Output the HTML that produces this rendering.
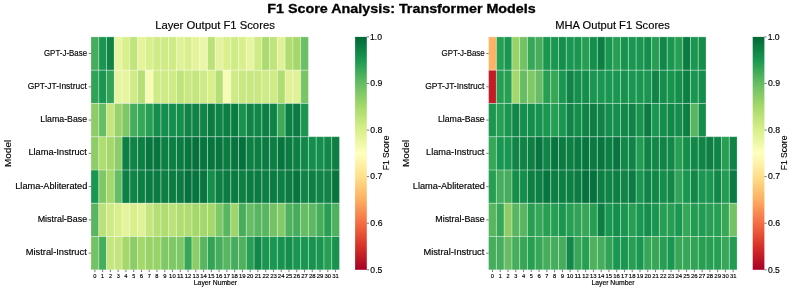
<!DOCTYPE html>
<html><head><meta charset="utf-8"><title>F1 Score Analysis: Transformer Models</title>
<style>html,body{margin:0;padding:0;background:#fff;}body{width:793px;height:290px;overflow:hidden;}
svg{display:block;will-change:transform;font-family:"Liberation Sans",sans-serif;}</style></head>
<body><svg width="793" height="290" viewBox="0 0 793 290">
<defs><linearGradient id="cb" x1="0" y1="1" x2="0" y2="0"><stop offset="0.00" stop-color="#a50026"/><stop offset="0.10" stop-color="#d73027"/><stop offset="0.20" stop-color="#f46d43"/><stop offset="0.30" stop-color="#fdae61"/><stop offset="0.40" stop-color="#fee08b"/><stop offset="0.50" stop-color="#ffffbf"/><stop offset="0.60" stop-color="#d9ef8b"/><stop offset="0.70" stop-color="#a6d96a"/><stop offset="0.80" stop-color="#66bd63"/><stop offset="0.90" stop-color="#1a9850"/><stop offset="1.00" stop-color="#006837"/></linearGradient></defs>
<rect width="793" height="290" fill="#fff"/>
<rect x="91.000" y="36.900" width="7.764" height="33.271" fill="#45ad5b"/>
<rect x="98.764" y="36.900" width="7.764" height="33.271" fill="#199750"/>
<rect x="106.528" y="36.900" width="7.764" height="33.271" fill="#0f8446"/>
<rect x="114.292" y="36.900" width="7.764" height="33.271" fill="#e8f59f"/>
<rect x="122.056" y="36.900" width="7.764" height="33.271" fill="#d9ef8b"/>
<rect x="129.820" y="36.900" width="7.764" height="33.271" fill="#bfe47a"/>
<rect x="137.584" y="36.900" width="7.764" height="33.271" fill="#e5f49b"/>
<rect x="145.348" y="36.900" width="7.764" height="33.271" fill="#d9ef8b"/>
<rect x="153.113" y="36.900" width="7.764" height="33.271" fill="#cfeb85"/>
<rect x="160.877" y="36.900" width="7.764" height="33.271" fill="#cfeb85"/>
<rect x="168.641" y="36.900" width="7.764" height="33.271" fill="#cfeb85"/>
<rect x="176.405" y="36.900" width="7.764" height="33.271" fill="#e0f295"/>
<rect x="184.169" y="36.900" width="7.764" height="33.271" fill="#d9ef8b"/>
<rect x="191.933" y="36.900" width="7.764" height="33.271" fill="#e5f49b"/>
<rect x="199.697" y="36.900" width="7.764" height="33.271" fill="#ecf7a6"/>
<rect x="207.461" y="36.900" width="7.764" height="33.271" fill="#bbe278"/>
<rect x="215.225" y="36.900" width="7.764" height="33.271" fill="#e5f49b"/>
<rect x="222.989" y="36.900" width="7.764" height="33.271" fill="#d9ef8b"/>
<rect x="230.753" y="36.900" width="7.764" height="33.271" fill="#cfeb85"/>
<rect x="238.517" y="36.900" width="7.764" height="33.271" fill="#d9ef8b"/>
<rect x="246.281" y="36.900" width="7.764" height="33.271" fill="#e8f59f"/>
<rect x="254.045" y="36.900" width="7.764" height="33.271" fill="#cfeb85"/>
<rect x="261.809" y="36.900" width="7.764" height="33.271" fill="#abdb6d"/>
<rect x="269.573" y="36.900" width="7.764" height="33.271" fill="#bfe47a"/>
<rect x="277.337" y="36.900" width="7.764" height="33.271" fill="#e0f295"/>
<rect x="285.102" y="36.900" width="7.764" height="33.271" fill="#afdd70"/>
<rect x="292.866" y="36.900" width="7.764" height="33.271" fill="#a5d86a"/>
<rect x="300.630" y="36.900" width="7.764" height="33.271" fill="#6bbf64"/>
<rect x="91.000" y="70.171" width="7.764" height="33.271" fill="#30a356"/>
<rect x="98.764" y="70.171" width="7.764" height="33.271" fill="#199750"/>
<rect x="106.528" y="70.171" width="7.764" height="33.271" fill="#30a356"/>
<rect x="114.292" y="70.171" width="7.764" height="33.271" fill="#e8f59f"/>
<rect x="122.056" y="70.171" width="7.764" height="33.271" fill="#e8f59f"/>
<rect x="129.820" y="70.171" width="7.764" height="33.271" fill="#cfeb85"/>
<rect x="137.584" y="70.171" width="7.764" height="33.271" fill="#b5df74"/>
<rect x="145.348" y="70.171" width="7.764" height="33.271" fill="#f7fcb4"/>
<rect x="153.113" y="70.171" width="7.764" height="33.271" fill="#cfeb85"/>
<rect x="160.877" y="70.171" width="7.764" height="33.271" fill="#cfeb85"/>
<rect x="168.641" y="70.171" width="7.764" height="33.271" fill="#cfeb85"/>
<rect x="176.405" y="70.171" width="7.764" height="33.271" fill="#bfe47a"/>
<rect x="184.169" y="70.171" width="7.764" height="33.271" fill="#c9e881"/>
<rect x="191.933" y="70.171" width="7.764" height="33.271" fill="#c5e67e"/>
<rect x="199.697" y="70.171" width="7.764" height="33.271" fill="#cfeb85"/>
<rect x="207.461" y="70.171" width="7.764" height="33.271" fill="#d9ef8b"/>
<rect x="215.225" y="70.171" width="7.764" height="33.271" fill="#b5df74"/>
<rect x="222.989" y="70.171" width="7.764" height="33.271" fill="#f7fcb4"/>
<rect x="230.753" y="70.171" width="7.764" height="33.271" fill="#cfeb85"/>
<rect x="238.517" y="70.171" width="7.764" height="33.271" fill="#c9e881"/>
<rect x="246.281" y="70.171" width="7.764" height="33.271" fill="#c9e881"/>
<rect x="254.045" y="70.171" width="7.764" height="33.271" fill="#c9e881"/>
<rect x="261.809" y="70.171" width="7.764" height="33.271" fill="#cfeb85"/>
<rect x="269.573" y="70.171" width="7.764" height="33.271" fill="#cfeb85"/>
<rect x="277.337" y="70.171" width="7.764" height="33.271" fill="#afdd70"/>
<rect x="285.102" y="70.171" width="7.764" height="33.271" fill="#e0f295"/>
<rect x="292.866" y="70.171" width="7.764" height="33.271" fill="#e0f295"/>
<rect x="300.630" y="70.171" width="7.764" height="33.271" fill="#78c565"/>
<rect x="91.000" y="103.443" width="7.764" height="33.271" fill="#8ccd67"/>
<rect x="98.764" y="103.443" width="7.764" height="33.271" fill="#66bd63"/>
<rect x="106.528" y="103.443" width="7.764" height="33.271" fill="#c5e67e"/>
<rect x="114.292" y="103.443" width="7.764" height="33.271" fill="#98d368"/>
<rect x="122.056" y="103.443" width="7.764" height="33.271" fill="#7fc866"/>
<rect x="129.820" y="103.443" width="7.764" height="33.271" fill="#45ad5b"/>
<rect x="137.584" y="103.443" width="7.764" height="33.271" fill="#36a657"/>
<rect x="145.348" y="103.443" width="7.764" height="33.271" fill="#279f53"/>
<rect x="153.113" y="103.443" width="7.764" height="33.271" fill="#148e4b"/>
<rect x="160.877" y="103.443" width="7.764" height="33.271" fill="#148e4b"/>
<rect x="168.641" y="103.443" width="7.764" height="33.271" fill="#148e4b"/>
<rect x="176.405" y="103.443" width="7.764" height="33.271" fill="#148e4b"/>
<rect x="184.169" y="103.443" width="7.764" height="33.271" fill="#0f8446"/>
<rect x="191.933" y="103.443" width="7.764" height="33.271" fill="#0f8446"/>
<rect x="199.697" y="103.443" width="7.764" height="33.271" fill="#0f8446"/>
<rect x="207.461" y="103.443" width="7.764" height="33.271" fill="#0a7b41"/>
<rect x="215.225" y="103.443" width="7.764" height="33.271" fill="#0f8446"/>
<rect x="222.989" y="103.443" width="7.764" height="33.271" fill="#0c7f43"/>
<rect x="230.753" y="103.443" width="7.764" height="33.271" fill="#0a7b41"/>
<rect x="238.517" y="103.443" width="7.764" height="33.271" fill="#17934e"/>
<rect x="246.281" y="103.443" width="7.764" height="33.271" fill="#0f8446"/>
<rect x="254.045" y="103.443" width="7.764" height="33.271" fill="#118848"/>
<rect x="261.809" y="103.443" width="7.764" height="33.271" fill="#0c7f43"/>
<rect x="269.573" y="103.443" width="7.764" height="33.271" fill="#0f8446"/>
<rect x="277.337" y="103.443" width="7.764" height="33.271" fill="#3faa59"/>
<rect x="285.102" y="103.443" width="7.764" height="33.271" fill="#0c7f43"/>
<rect x="292.866" y="103.443" width="7.764" height="33.271" fill="#0a7b41"/>
<rect x="300.630" y="103.443" width="7.764" height="33.271" fill="#199750"/>
<rect x="91.000" y="136.714" width="7.764" height="33.271" fill="#8ccd67"/>
<rect x="98.764" y="136.714" width="7.764" height="33.271" fill="#afdd70"/>
<rect x="106.528" y="136.714" width="7.764" height="33.271" fill="#a5d86a"/>
<rect x="114.292" y="136.714" width="7.764" height="33.271" fill="#8ccd67"/>
<rect x="122.056" y="136.714" width="7.764" height="33.271" fill="#0c7f43"/>
<rect x="129.820" y="136.714" width="7.764" height="33.271" fill="#0f8446"/>
<rect x="137.584" y="136.714" width="7.764" height="33.271" fill="#0c7f43"/>
<rect x="145.348" y="136.714" width="7.764" height="33.271" fill="#07753e"/>
<rect x="153.113" y="136.714" width="7.764" height="33.271" fill="#07753e"/>
<rect x="160.877" y="136.714" width="7.764" height="33.271" fill="#0c7f43"/>
<rect x="168.641" y="136.714" width="7.764" height="33.271" fill="#0c7f43"/>
<rect x="176.405" y="136.714" width="7.764" height="33.271" fill="#0a7b41"/>
<rect x="184.169" y="136.714" width="7.764" height="33.271" fill="#07753e"/>
<rect x="191.933" y="136.714" width="7.764" height="33.271" fill="#05713c"/>
<rect x="199.697" y="136.714" width="7.764" height="33.271" fill="#07753e"/>
<rect x="207.461" y="136.714" width="7.764" height="33.271" fill="#07753e"/>
<rect x="215.225" y="136.714" width="7.764" height="33.271" fill="#07753e"/>
<rect x="222.989" y="136.714" width="7.764" height="33.271" fill="#0a7b41"/>
<rect x="230.753" y="136.714" width="7.764" height="33.271" fill="#07753e"/>
<rect x="238.517" y="136.714" width="7.764" height="33.271" fill="#05713c"/>
<rect x="246.281" y="136.714" width="7.764" height="33.271" fill="#0c7f43"/>
<rect x="254.045" y="136.714" width="7.764" height="33.271" fill="#0c7f43"/>
<rect x="261.809" y="136.714" width="7.764" height="33.271" fill="#0a7b41"/>
<rect x="269.573" y="136.714" width="7.764" height="33.271" fill="#0c7f43"/>
<rect x="277.337" y="136.714" width="7.764" height="33.271" fill="#07753e"/>
<rect x="285.102" y="136.714" width="7.764" height="33.271" fill="#0a7b41"/>
<rect x="292.866" y="136.714" width="7.764" height="33.271" fill="#0c7f43"/>
<rect x="300.630" y="136.714" width="7.764" height="33.271" fill="#118848"/>
<rect x="308.394" y="136.714" width="7.764" height="33.271" fill="#148e4b"/>
<rect x="316.158" y="136.714" width="7.764" height="33.271" fill="#148e4b"/>
<rect x="323.922" y="136.714" width="7.764" height="33.271" fill="#118848"/>
<rect x="331.686" y="136.714" width="7.764" height="33.271" fill="#0c7f43"/>
<rect x="91.000" y="169.986" width="7.764" height="33.271" fill="#199750"/>
<rect x="98.764" y="169.986" width="7.764" height="33.271" fill="#7fc866"/>
<rect x="106.528" y="169.986" width="7.764" height="33.271" fill="#a5d86a"/>
<rect x="114.292" y="169.986" width="7.764" height="33.271" fill="#66bd63"/>
<rect x="122.056" y="169.986" width="7.764" height="33.271" fill="#0c7f43"/>
<rect x="129.820" y="169.986" width="7.764" height="33.271" fill="#0f8446"/>
<rect x="137.584" y="169.986" width="7.764" height="33.271" fill="#0c7f43"/>
<rect x="145.348" y="169.986" width="7.764" height="33.271" fill="#0a7b41"/>
<rect x="153.113" y="169.986" width="7.764" height="33.271" fill="#0a7b41"/>
<rect x="160.877" y="169.986" width="7.764" height="33.271" fill="#0c7f43"/>
<rect x="168.641" y="169.986" width="7.764" height="33.271" fill="#0a7b41"/>
<rect x="176.405" y="169.986" width="7.764" height="33.271" fill="#0a7b41"/>
<rect x="184.169" y="169.986" width="7.764" height="33.271" fill="#05713c"/>
<rect x="191.933" y="169.986" width="7.764" height="33.271" fill="#07753e"/>
<rect x="199.697" y="169.986" width="7.764" height="33.271" fill="#07753e"/>
<rect x="207.461" y="169.986" width="7.764" height="33.271" fill="#148e4b"/>
<rect x="215.225" y="169.986" width="7.764" height="33.271" fill="#0c7f43"/>
<rect x="222.989" y="169.986" width="7.764" height="33.271" fill="#0a7b41"/>
<rect x="230.753" y="169.986" width="7.764" height="33.271" fill="#0a7b41"/>
<rect x="238.517" y="169.986" width="7.764" height="33.271" fill="#0c7f43"/>
<rect x="246.281" y="169.986" width="7.764" height="33.271" fill="#0a7b41"/>
<rect x="254.045" y="169.986" width="7.764" height="33.271" fill="#0a7b41"/>
<rect x="261.809" y="169.986" width="7.764" height="33.271" fill="#0c7f43"/>
<rect x="269.573" y="169.986" width="7.764" height="33.271" fill="#0a7b41"/>
<rect x="277.337" y="169.986" width="7.764" height="33.271" fill="#0c7f43"/>
<rect x="285.102" y="169.986" width="7.764" height="33.271" fill="#0a7b41"/>
<rect x="292.866" y="169.986" width="7.764" height="33.271" fill="#07753e"/>
<rect x="300.630" y="169.986" width="7.764" height="33.271" fill="#0f8446"/>
<rect x="308.394" y="169.986" width="7.764" height="33.271" fill="#0c7f43"/>
<rect x="316.158" y="169.986" width="7.764" height="33.271" fill="#0f8446"/>
<rect x="323.922" y="169.986" width="7.764" height="33.271" fill="#0f8446"/>
<rect x="331.686" y="169.986" width="7.764" height="33.271" fill="#07753e"/>
<rect x="91.000" y="203.257" width="7.764" height="33.271" fill="#57b65f"/>
<rect x="98.764" y="203.257" width="7.764" height="33.271" fill="#bbe278"/>
<rect x="106.528" y="203.257" width="7.764" height="33.271" fill="#cfeb85"/>
<rect x="114.292" y="203.257" width="7.764" height="33.271" fill="#d9ef8b"/>
<rect x="122.056" y="203.257" width="7.764" height="33.271" fill="#e5f49b"/>
<rect x="129.820" y="203.257" width="7.764" height="33.271" fill="#d9ef8b"/>
<rect x="137.584" y="203.257" width="7.764" height="33.271" fill="#e0f295"/>
<rect x="145.348" y="203.257" width="7.764" height="33.271" fill="#c5e67e"/>
<rect x="153.113" y="203.257" width="7.764" height="33.271" fill="#b5df74"/>
<rect x="160.877" y="203.257" width="7.764" height="33.271" fill="#afdd70"/>
<rect x="168.641" y="203.257" width="7.764" height="33.271" fill="#bbe278"/>
<rect x="176.405" y="203.257" width="7.764" height="33.271" fill="#afdd70"/>
<rect x="184.169" y="203.257" width="7.764" height="33.271" fill="#afdd70"/>
<rect x="191.933" y="203.257" width="7.764" height="33.271" fill="#a5d86a"/>
<rect x="199.697" y="203.257" width="7.764" height="33.271" fill="#a5d86a"/>
<rect x="207.461" y="203.257" width="7.764" height="33.271" fill="#a5d86a"/>
<rect x="215.225" y="203.257" width="7.764" height="33.271" fill="#7fc866"/>
<rect x="222.989" y="203.257" width="7.764" height="33.271" fill="#57b65f"/>
<rect x="230.753" y="203.257" width="7.764" height="33.271" fill="#a0d669"/>
<rect x="238.517" y="203.257" width="7.764" height="33.271" fill="#45ad5b"/>
<rect x="246.281" y="203.257" width="7.764" height="33.271" fill="#66bd63"/>
<rect x="254.045" y="203.257" width="7.764" height="33.271" fill="#57b65f"/>
<rect x="261.809" y="203.257" width="7.764" height="33.271" fill="#57b65f"/>
<rect x="269.573" y="203.257" width="7.764" height="33.271" fill="#73c264"/>
<rect x="277.337" y="203.257" width="7.764" height="33.271" fill="#84ca66"/>
<rect x="285.102" y="203.257" width="7.764" height="33.271" fill="#4eb15d"/>
<rect x="292.866" y="203.257" width="7.764" height="33.271" fill="#45ad5b"/>
<rect x="300.630" y="203.257" width="7.764" height="33.271" fill="#66bd63"/>
<rect x="308.394" y="203.257" width="7.764" height="33.271" fill="#5db961"/>
<rect x="316.158" y="203.257" width="7.764" height="33.271" fill="#45ad5b"/>
<rect x="323.922" y="203.257" width="7.764" height="33.271" fill="#279f53"/>
<rect x="331.686" y="203.257" width="7.764" height="33.271" fill="#4eb15d"/>
<rect x="91.000" y="236.529" width="7.764" height="33.271" fill="#73c264"/>
<rect x="98.764" y="236.529" width="7.764" height="33.271" fill="#45ad5b"/>
<rect x="106.528" y="236.529" width="7.764" height="33.271" fill="#c5e67e"/>
<rect x="114.292" y="236.529" width="7.764" height="33.271" fill="#c5e67e"/>
<rect x="122.056" y="236.529" width="7.764" height="33.271" fill="#a5d86a"/>
<rect x="129.820" y="236.529" width="7.764" height="33.271" fill="#8ccd67"/>
<rect x="137.584" y="236.529" width="7.764" height="33.271" fill="#a5d86a"/>
<rect x="145.348" y="236.529" width="7.764" height="33.271" fill="#98d368"/>
<rect x="153.113" y="236.529" width="7.764" height="33.271" fill="#98d368"/>
<rect x="160.877" y="236.529" width="7.764" height="33.271" fill="#7fc866"/>
<rect x="168.641" y="236.529" width="7.764" height="33.271" fill="#7fc866"/>
<rect x="176.405" y="236.529" width="7.764" height="33.271" fill="#7fc866"/>
<rect x="184.169" y="236.529" width="7.764" height="33.271" fill="#36a657"/>
<rect x="191.933" y="236.529" width="7.764" height="33.271" fill="#8ccd67"/>
<rect x="199.697" y="236.529" width="7.764" height="33.271" fill="#57b65f"/>
<rect x="207.461" y="236.529" width="7.764" height="33.271" fill="#30a356"/>
<rect x="215.225" y="236.529" width="7.764" height="33.271" fill="#45ad5b"/>
<rect x="222.989" y="236.529" width="7.764" height="33.271" fill="#57b65f"/>
<rect x="230.753" y="236.529" width="7.764" height="33.271" fill="#45ad5b"/>
<rect x="238.517" y="236.529" width="7.764" height="33.271" fill="#4eb15d"/>
<rect x="246.281" y="236.529" width="7.764" height="33.271" fill="#279f53"/>
<rect x="254.045" y="236.529" width="7.764" height="33.271" fill="#118848"/>
<rect x="261.809" y="236.529" width="7.764" height="33.271" fill="#199750"/>
<rect x="269.573" y="236.529" width="7.764" height="33.271" fill="#199750"/>
<rect x="277.337" y="236.529" width="7.764" height="33.271" fill="#17934e"/>
<rect x="285.102" y="236.529" width="7.764" height="33.271" fill="#148e4b"/>
<rect x="292.866" y="236.529" width="7.764" height="33.271" fill="#199750"/>
<rect x="300.630" y="236.529" width="7.764" height="33.271" fill="#199750"/>
<rect x="308.394" y="236.529" width="7.764" height="33.271" fill="#17934e"/>
<rect x="316.158" y="236.529" width="7.764" height="33.271" fill="#199750"/>
<rect x="323.922" y="236.529" width="7.764" height="33.271" fill="#279f53"/>
<rect x="331.686" y="236.529" width="7.764" height="33.271" fill="#17934e"/>
<path d="M91.000 36.900h7.764v33.271h-7.764zM98.764 36.900h7.764v33.271h-7.764zM106.528 36.900h7.764v33.271h-7.764zM114.292 36.900h7.764v33.271h-7.764zM122.056 36.900h7.764v33.271h-7.764zM129.820 36.900h7.764v33.271h-7.764zM137.584 36.900h7.764v33.271h-7.764zM145.348 36.900h7.764v33.271h-7.764zM153.113 36.900h7.764v33.271h-7.764zM160.877 36.900h7.764v33.271h-7.764zM168.641 36.900h7.764v33.271h-7.764zM176.405 36.900h7.764v33.271h-7.764zM184.169 36.900h7.764v33.271h-7.764zM191.933 36.900h7.764v33.271h-7.764zM199.697 36.900h7.764v33.271h-7.764zM207.461 36.900h7.764v33.271h-7.764zM215.225 36.900h7.764v33.271h-7.764zM222.989 36.900h7.764v33.271h-7.764zM230.753 36.900h7.764v33.271h-7.764zM238.517 36.900h7.764v33.271h-7.764zM246.281 36.900h7.764v33.271h-7.764zM254.045 36.900h7.764v33.271h-7.764zM261.809 36.900h7.764v33.271h-7.764zM269.573 36.900h7.764v33.271h-7.764zM277.337 36.900h7.764v33.271h-7.764zM285.102 36.900h7.764v33.271h-7.764zM292.866 36.900h7.764v33.271h-7.764zM300.630 36.900h7.764v33.271h-7.764zM91.000 70.171h7.764v33.271h-7.764zM98.764 70.171h7.764v33.271h-7.764zM106.528 70.171h7.764v33.271h-7.764zM114.292 70.171h7.764v33.271h-7.764zM122.056 70.171h7.764v33.271h-7.764zM129.820 70.171h7.764v33.271h-7.764zM137.584 70.171h7.764v33.271h-7.764zM145.348 70.171h7.764v33.271h-7.764zM153.113 70.171h7.764v33.271h-7.764zM160.877 70.171h7.764v33.271h-7.764zM168.641 70.171h7.764v33.271h-7.764zM176.405 70.171h7.764v33.271h-7.764zM184.169 70.171h7.764v33.271h-7.764zM191.933 70.171h7.764v33.271h-7.764zM199.697 70.171h7.764v33.271h-7.764zM207.461 70.171h7.764v33.271h-7.764zM215.225 70.171h7.764v33.271h-7.764zM222.989 70.171h7.764v33.271h-7.764zM230.753 70.171h7.764v33.271h-7.764zM238.517 70.171h7.764v33.271h-7.764zM246.281 70.171h7.764v33.271h-7.764zM254.045 70.171h7.764v33.271h-7.764zM261.809 70.171h7.764v33.271h-7.764zM269.573 70.171h7.764v33.271h-7.764zM277.337 70.171h7.764v33.271h-7.764zM285.102 70.171h7.764v33.271h-7.764zM292.866 70.171h7.764v33.271h-7.764zM300.630 70.171h7.764v33.271h-7.764zM91.000 103.443h7.764v33.271h-7.764zM98.764 103.443h7.764v33.271h-7.764zM106.528 103.443h7.764v33.271h-7.764zM114.292 103.443h7.764v33.271h-7.764zM122.056 103.443h7.764v33.271h-7.764zM129.820 103.443h7.764v33.271h-7.764zM137.584 103.443h7.764v33.271h-7.764zM145.348 103.443h7.764v33.271h-7.764zM153.113 103.443h7.764v33.271h-7.764zM160.877 103.443h7.764v33.271h-7.764zM168.641 103.443h7.764v33.271h-7.764zM176.405 103.443h7.764v33.271h-7.764zM184.169 103.443h7.764v33.271h-7.764zM191.933 103.443h7.764v33.271h-7.764zM199.697 103.443h7.764v33.271h-7.764zM207.461 103.443h7.764v33.271h-7.764zM215.225 103.443h7.764v33.271h-7.764zM222.989 103.443h7.764v33.271h-7.764zM230.753 103.443h7.764v33.271h-7.764zM238.517 103.443h7.764v33.271h-7.764zM246.281 103.443h7.764v33.271h-7.764zM254.045 103.443h7.764v33.271h-7.764zM261.809 103.443h7.764v33.271h-7.764zM269.573 103.443h7.764v33.271h-7.764zM277.337 103.443h7.764v33.271h-7.764zM285.102 103.443h7.764v33.271h-7.764zM292.866 103.443h7.764v33.271h-7.764zM300.630 103.443h7.764v33.271h-7.764zM91.000 136.714h7.764v33.271h-7.764zM98.764 136.714h7.764v33.271h-7.764zM106.528 136.714h7.764v33.271h-7.764zM114.292 136.714h7.764v33.271h-7.764zM122.056 136.714h7.764v33.271h-7.764zM129.820 136.714h7.764v33.271h-7.764zM137.584 136.714h7.764v33.271h-7.764zM145.348 136.714h7.764v33.271h-7.764zM153.113 136.714h7.764v33.271h-7.764zM160.877 136.714h7.764v33.271h-7.764zM168.641 136.714h7.764v33.271h-7.764zM176.405 136.714h7.764v33.271h-7.764zM184.169 136.714h7.764v33.271h-7.764zM191.933 136.714h7.764v33.271h-7.764zM199.697 136.714h7.764v33.271h-7.764zM207.461 136.714h7.764v33.271h-7.764zM215.225 136.714h7.764v33.271h-7.764zM222.989 136.714h7.764v33.271h-7.764zM230.753 136.714h7.764v33.271h-7.764zM238.517 136.714h7.764v33.271h-7.764zM246.281 136.714h7.764v33.271h-7.764zM254.045 136.714h7.764v33.271h-7.764zM261.809 136.714h7.764v33.271h-7.764zM269.573 136.714h7.764v33.271h-7.764zM277.337 136.714h7.764v33.271h-7.764zM285.102 136.714h7.764v33.271h-7.764zM292.866 136.714h7.764v33.271h-7.764zM300.630 136.714h7.764v33.271h-7.764zM308.394 136.714h7.764v33.271h-7.764zM316.158 136.714h7.764v33.271h-7.764zM323.922 136.714h7.764v33.271h-7.764zM331.686 136.714h7.764v33.271h-7.764zM91.000 169.986h7.764v33.271h-7.764zM98.764 169.986h7.764v33.271h-7.764zM106.528 169.986h7.764v33.271h-7.764zM114.292 169.986h7.764v33.271h-7.764zM122.056 169.986h7.764v33.271h-7.764zM129.820 169.986h7.764v33.271h-7.764zM137.584 169.986h7.764v33.271h-7.764zM145.348 169.986h7.764v33.271h-7.764zM153.113 169.986h7.764v33.271h-7.764zM160.877 169.986h7.764v33.271h-7.764zM168.641 169.986h7.764v33.271h-7.764zM176.405 169.986h7.764v33.271h-7.764zM184.169 169.986h7.764v33.271h-7.764zM191.933 169.986h7.764v33.271h-7.764zM199.697 169.986h7.764v33.271h-7.764zM207.461 169.986h7.764v33.271h-7.764zM215.225 169.986h7.764v33.271h-7.764zM222.989 169.986h7.764v33.271h-7.764zM230.753 169.986h7.764v33.271h-7.764zM238.517 169.986h7.764v33.271h-7.764zM246.281 169.986h7.764v33.271h-7.764zM254.045 169.986h7.764v33.271h-7.764zM261.809 169.986h7.764v33.271h-7.764zM269.573 169.986h7.764v33.271h-7.764zM277.337 169.986h7.764v33.271h-7.764zM285.102 169.986h7.764v33.271h-7.764zM292.866 169.986h7.764v33.271h-7.764zM300.630 169.986h7.764v33.271h-7.764zM308.394 169.986h7.764v33.271h-7.764zM316.158 169.986h7.764v33.271h-7.764zM323.922 169.986h7.764v33.271h-7.764zM331.686 169.986h7.764v33.271h-7.764zM91.000 203.257h7.764v33.271h-7.764zM98.764 203.257h7.764v33.271h-7.764zM106.528 203.257h7.764v33.271h-7.764zM114.292 203.257h7.764v33.271h-7.764zM122.056 203.257h7.764v33.271h-7.764zM129.820 203.257h7.764v33.271h-7.764zM137.584 203.257h7.764v33.271h-7.764zM145.348 203.257h7.764v33.271h-7.764zM153.113 203.257h7.764v33.271h-7.764zM160.877 203.257h7.764v33.271h-7.764zM168.641 203.257h7.764v33.271h-7.764zM176.405 203.257h7.764v33.271h-7.764zM184.169 203.257h7.764v33.271h-7.764zM191.933 203.257h7.764v33.271h-7.764zM199.697 203.257h7.764v33.271h-7.764zM207.461 203.257h7.764v33.271h-7.764zM215.225 203.257h7.764v33.271h-7.764zM222.989 203.257h7.764v33.271h-7.764zM230.753 203.257h7.764v33.271h-7.764zM238.517 203.257h7.764v33.271h-7.764zM246.281 203.257h7.764v33.271h-7.764zM254.045 203.257h7.764v33.271h-7.764zM261.809 203.257h7.764v33.271h-7.764zM269.573 203.257h7.764v33.271h-7.764zM277.337 203.257h7.764v33.271h-7.764zM285.102 203.257h7.764v33.271h-7.764zM292.866 203.257h7.764v33.271h-7.764zM300.630 203.257h7.764v33.271h-7.764zM308.394 203.257h7.764v33.271h-7.764zM316.158 203.257h7.764v33.271h-7.764zM323.922 203.257h7.764v33.271h-7.764zM331.686 203.257h7.764v33.271h-7.764zM91.000 236.529h7.764v33.271h-7.764zM98.764 236.529h7.764v33.271h-7.764zM106.528 236.529h7.764v33.271h-7.764zM114.292 236.529h7.764v33.271h-7.764zM122.056 236.529h7.764v33.271h-7.764zM129.820 236.529h7.764v33.271h-7.764zM137.584 236.529h7.764v33.271h-7.764zM145.348 236.529h7.764v33.271h-7.764zM153.113 236.529h7.764v33.271h-7.764zM160.877 236.529h7.764v33.271h-7.764zM168.641 236.529h7.764v33.271h-7.764zM176.405 236.529h7.764v33.271h-7.764zM184.169 236.529h7.764v33.271h-7.764zM191.933 236.529h7.764v33.271h-7.764zM199.697 236.529h7.764v33.271h-7.764zM207.461 236.529h7.764v33.271h-7.764zM215.225 236.529h7.764v33.271h-7.764zM222.989 236.529h7.764v33.271h-7.764zM230.753 236.529h7.764v33.271h-7.764zM238.517 236.529h7.764v33.271h-7.764zM246.281 236.529h7.764v33.271h-7.764zM254.045 236.529h7.764v33.271h-7.764zM261.809 236.529h7.764v33.271h-7.764zM269.573 236.529h7.764v33.271h-7.764zM277.337 236.529h7.764v33.271h-7.764zM285.102 236.529h7.764v33.271h-7.764zM292.866 236.529h7.764v33.271h-7.764zM300.630 236.529h7.764v33.271h-7.764zM308.394 236.529h7.764v33.271h-7.764zM316.158 236.529h7.764v33.271h-7.764zM323.922 236.529h7.764v33.271h-7.764zM331.686 236.529h7.764v33.271h-7.764z" fill="none" stroke="#fff" stroke-width="0.6" stroke-opacity="0.4"/>
<line x1="88.70" y1="53.54" x2="91.00" y2="53.54" stroke="#222" stroke-width="0.6"/>
<text x="43.98" y="55.54" font-size="8.56" textLength="43.08" lengthAdjust="spacingAndGlyphs" fill="#000" stroke="#000" stroke-width="0.15">GPT-J-Base</text>
<line x1="88.70" y1="86.81" x2="91.00" y2="86.81" stroke="#222" stroke-width="0.6"/>
<text x="27.63" y="88.81" font-size="8.56" textLength="59.12" lengthAdjust="spacingAndGlyphs" fill="#000" stroke="#000" stroke-width="0.15">GPT-JT-Instruct</text>
<line x1="88.70" y1="120.08" x2="91.00" y2="120.08" stroke="#222" stroke-width="0.6"/>
<text x="40.31" y="122.08" font-size="8.49" textLength="46.79" lengthAdjust="spacingAndGlyphs" fill="#000" stroke="#000" stroke-width="0.15">Llama-Base</text>
<line x1="88.70" y1="153.35" x2="91.00" y2="153.35" stroke="#222" stroke-width="0.6"/>
<text x="28.45" y="155.35" font-size="8.49" textLength="58.30" lengthAdjust="spacingAndGlyphs" fill="#000" stroke="#000" stroke-width="0.15">Llama-Instruct</text>
<line x1="88.70" y1="186.62" x2="91.00" y2="186.62" stroke="#222" stroke-width="0.6"/>
<text x="15.25" y="188.62" font-size="8.49" textLength="72.07" lengthAdjust="spacingAndGlyphs" fill="#000" stroke="#000" stroke-width="0.15">Llama-Abliterated</text>
<line x1="88.70" y1="219.89" x2="91.00" y2="219.89" stroke="#222" stroke-width="0.6"/>
<text x="37.71" y="221.89" font-size="8.49" textLength="49.40" lengthAdjust="spacingAndGlyphs" fill="#000" stroke="#000" stroke-width="0.15">Mistral-Base</text>
<line x1="88.70" y1="253.16" x2="91.00" y2="253.16" stroke="#222" stroke-width="0.6"/>
<text x="25.81" y="255.16" font-size="8.49" textLength="60.94" lengthAdjust="spacingAndGlyphs" fill="#000" stroke="#000" stroke-width="0.15">Mistral-Instruct</text>
<line x1="94.88" y1="269.80" x2="94.88" y2="272.10" stroke="#222" stroke-width="0.6"/>
<text x="93.29" y="277.70" font-size="5.71" textLength="3.19" lengthAdjust="spacingAndGlyphs" fill="#000" stroke="#000" stroke-width="0.15">0</text>
<line x1="102.65" y1="269.80" x2="102.65" y2="272.10" stroke="#222" stroke-width="0.6"/>
<text x="101.06" y="277.70" font-size="5.71" textLength="3.04" lengthAdjust="spacingAndGlyphs" fill="#000" stroke="#000" stroke-width="0.15">1</text>
<line x1="110.41" y1="269.80" x2="110.41" y2="272.10" stroke="#222" stroke-width="0.6"/>
<text x="108.90" y="277.70" font-size="5.71" textLength="3.04" lengthAdjust="spacingAndGlyphs" fill="#000" stroke="#000" stroke-width="0.15">2</text>
<line x1="118.17" y1="269.80" x2="118.17" y2="272.10" stroke="#222" stroke-width="0.6"/>
<text x="116.66" y="277.70" font-size="5.71" textLength="3.07" lengthAdjust="spacingAndGlyphs" fill="#000" stroke="#000" stroke-width="0.15">3</text>
<line x1="125.94" y1="269.80" x2="125.94" y2="272.10" stroke="#222" stroke-width="0.6"/>
<text x="124.36" y="277.70" font-size="5.71" textLength="3.18" lengthAdjust="spacingAndGlyphs" fill="#000" stroke="#000" stroke-width="0.15">4</text>
<line x1="133.70" y1="269.80" x2="133.70" y2="272.10" stroke="#222" stroke-width="0.6"/>
<text x="132.20" y="277.70" font-size="5.71" textLength="3.00" lengthAdjust="spacingAndGlyphs" fill="#000" stroke="#000" stroke-width="0.15">5</text>
<line x1="141.47" y1="269.80" x2="141.47" y2="272.10" stroke="#222" stroke-width="0.6"/>
<text x="139.81" y="277.70" font-size="5.71" textLength="3.30" lengthAdjust="spacingAndGlyphs" fill="#000" stroke="#000" stroke-width="0.15">6</text>
<line x1="149.23" y1="269.80" x2="149.23" y2="272.10" stroke="#222" stroke-width="0.6"/>
<text x="147.68" y="277.70" font-size="5.71" textLength="3.10" lengthAdjust="spacingAndGlyphs" fill="#000" stroke="#000" stroke-width="0.15">7</text>
<line x1="156.99" y1="269.80" x2="156.99" y2="272.10" stroke="#222" stroke-width="0.6"/>
<text x="155.39" y="277.70" font-size="5.71" textLength="3.20" lengthAdjust="spacingAndGlyphs" fill="#000" stroke="#000" stroke-width="0.15">8</text>
<line x1="164.76" y1="269.80" x2="164.76" y2="272.10" stroke="#222" stroke-width="0.6"/>
<text x="163.15" y="277.70" font-size="5.71" textLength="3.23" lengthAdjust="spacingAndGlyphs" fill="#000" stroke="#000" stroke-width="0.15">9</text>
<line x1="172.52" y1="269.80" x2="172.52" y2="272.10" stroke="#222" stroke-width="0.6"/>
<text x="169.12" y="277.70" font-size="5.71" textLength="6.61" lengthAdjust="spacingAndGlyphs" fill="#000" stroke="#000" stroke-width="0.15">10</text>
<line x1="180.29" y1="269.80" x2="180.29" y2="272.10" stroke="#222" stroke-width="0.6"/>
<text x="176.92" y="277.70" font-size="5.71" textLength="6.59" lengthAdjust="spacingAndGlyphs" fill="#000" stroke="#000" stroke-width="0.15">11</text>
<line x1="188.05" y1="269.80" x2="188.05" y2="272.10" stroke="#222" stroke-width="0.6"/>
<text x="184.75" y="277.70" font-size="5.71" textLength="6.46" lengthAdjust="spacingAndGlyphs" fill="#000" stroke="#000" stroke-width="0.15">12</text>
<line x1="195.81" y1="269.80" x2="195.81" y2="272.10" stroke="#222" stroke-width="0.6"/>
<text x="192.46" y="277.70" font-size="5.71" textLength="6.55" lengthAdjust="spacingAndGlyphs" fill="#000" stroke="#000" stroke-width="0.15">13</text>
<line x1="203.58" y1="269.80" x2="203.58" y2="272.10" stroke="#222" stroke-width="0.6"/>
<text x="200.15" y="277.70" font-size="5.71" textLength="6.60" lengthAdjust="spacingAndGlyphs" fill="#000" stroke="#000" stroke-width="0.15">14</text>
<line x1="211.34" y1="269.80" x2="211.34" y2="272.10" stroke="#222" stroke-width="0.6"/>
<text x="208.00" y="277.70" font-size="5.71" textLength="6.49" lengthAdjust="spacingAndGlyphs" fill="#000" stroke="#000" stroke-width="0.15">15</text>
<line x1="219.11" y1="269.80" x2="219.11" y2="272.10" stroke="#222" stroke-width="0.6"/>
<text x="215.69" y="277.70" font-size="5.71" textLength="6.67" lengthAdjust="spacingAndGlyphs" fill="#000" stroke="#000" stroke-width="0.15">16</text>
<line x1="226.87" y1="269.80" x2="226.87" y2="272.10" stroke="#222" stroke-width="0.6"/>
<text x="223.53" y="277.70" font-size="5.71" textLength="6.56" lengthAdjust="spacingAndGlyphs" fill="#000" stroke="#000" stroke-width="0.15">17</text>
<line x1="234.64" y1="269.80" x2="234.64" y2="272.10" stroke="#222" stroke-width="0.6"/>
<text x="231.23" y="277.70" font-size="5.71" textLength="6.61" lengthAdjust="spacingAndGlyphs" fill="#000" stroke="#000" stroke-width="0.15">18</text>
<line x1="242.40" y1="269.80" x2="242.40" y2="272.10" stroke="#222" stroke-width="0.6"/>
<text x="239.01" y="277.70" font-size="5.71" textLength="6.61" lengthAdjust="spacingAndGlyphs" fill="#000" stroke="#000" stroke-width="0.15">19</text>
<line x1="250.16" y1="269.80" x2="250.16" y2="272.10" stroke="#222" stroke-width="0.6"/>
<text x="246.81" y="277.70" font-size="5.71" textLength="6.65" lengthAdjust="spacingAndGlyphs" fill="#000" stroke="#000" stroke-width="0.15">20</text>
<line x1="257.93" y1="269.80" x2="257.93" y2="272.10" stroke="#222" stroke-width="0.6"/>
<text x="254.65" y="277.70" font-size="5.71" textLength="6.57" lengthAdjust="spacingAndGlyphs" fill="#000" stroke="#000" stroke-width="0.15">21</text>
<line x1="265.69" y1="269.80" x2="265.69" y2="272.10" stroke="#222" stroke-width="0.6"/>
<text x="262.44" y="277.70" font-size="5.71" textLength="6.51" lengthAdjust="spacingAndGlyphs" fill="#000" stroke="#000" stroke-width="0.15">22</text>
<line x1="273.46" y1="269.80" x2="273.46" y2="272.10" stroke="#222" stroke-width="0.6"/>
<text x="270.15" y="277.70" font-size="5.71" textLength="6.60" lengthAdjust="spacingAndGlyphs" fill="#000" stroke="#000" stroke-width="0.15">23</text>
<line x1="281.22" y1="269.80" x2="281.22" y2="272.10" stroke="#222" stroke-width="0.6"/>
<text x="277.84" y="277.70" font-size="5.71" textLength="6.65" lengthAdjust="spacingAndGlyphs" fill="#000" stroke="#000" stroke-width="0.15">24</text>
<line x1="288.98" y1="269.80" x2="288.98" y2="272.10" stroke="#222" stroke-width="0.6"/>
<text x="285.69" y="277.70" font-size="5.71" textLength="6.54" lengthAdjust="spacingAndGlyphs" fill="#000" stroke="#000" stroke-width="0.15">25</text>
<line x1="296.75" y1="269.80" x2="296.75" y2="272.10" stroke="#222" stroke-width="0.6"/>
<text x="293.38" y="277.70" font-size="5.71" textLength="6.72" lengthAdjust="spacingAndGlyphs" fill="#000" stroke="#000" stroke-width="0.15">26</text>
<line x1="304.51" y1="269.80" x2="304.51" y2="272.10" stroke="#222" stroke-width="0.6"/>
<text x="301.22" y="277.70" font-size="5.71" textLength="6.60" lengthAdjust="spacingAndGlyphs" fill="#000" stroke="#000" stroke-width="0.15">27</text>
<line x1="312.28" y1="269.80" x2="312.28" y2="272.10" stroke="#222" stroke-width="0.6"/>
<text x="308.93" y="277.70" font-size="5.71" textLength="6.65" lengthAdjust="spacingAndGlyphs" fill="#000" stroke="#000" stroke-width="0.15">28</text>
<line x1="320.04" y1="269.80" x2="320.04" y2="272.10" stroke="#222" stroke-width="0.6"/>
<text x="316.70" y="277.70" font-size="5.71" textLength="6.66" lengthAdjust="spacingAndGlyphs" fill="#000" stroke="#000" stroke-width="0.15">29</text>
<line x1="327.80" y1="269.80" x2="327.80" y2="272.10" stroke="#222" stroke-width="0.6"/>
<text x="324.52" y="277.70" font-size="5.71" textLength="6.59" lengthAdjust="spacingAndGlyphs" fill="#000" stroke="#000" stroke-width="0.15">30</text>
<line x1="335.57" y1="269.80" x2="335.57" y2="272.10" stroke="#222" stroke-width="0.6"/>
<text x="332.35" y="277.70" font-size="5.71" textLength="6.51" lengthAdjust="spacingAndGlyphs" fill="#000" stroke="#000" stroke-width="0.15">31</text>
<text x="193.84" y="284.90" font-size="6.34" textLength="43.13" lengthAdjust="spacingAndGlyphs" fill="#000" stroke="#000" stroke-width="0.15">Layer Number</text>
<g transform="translate(11.20 153.35) rotate(-90)"><text x="-13.58" y="0.00" font-size="9.54" textLength="27.05" lengthAdjust="spacingAndGlyphs" fill="#000" stroke="#000" stroke-width="0.15">Model</text></g>
<text x="155.16" y="29.00" font-size="10.78" textLength="119.63" lengthAdjust="spacingAndGlyphs" fill="#000" stroke="#000" stroke-width="0.15">Layer Output F1 Scores</text>
<rect x="355.10" y="36.90" width="11.70" height="232.90" fill="url(#cb)"/>
<line x1="366.80" y1="269.80" x2="369.10" y2="269.80" stroke="#222" stroke-width="0.6"/>
<text x="370.36" y="272.60" font-size="8.25" textLength="11.92" lengthAdjust="spacingAndGlyphs" fill="#000" stroke="#000" stroke-width="0.15">0.5</text>
<line x1="366.80" y1="223.22" x2="369.10" y2="223.22" stroke="#222" stroke-width="0.6"/>
<text x="370.35" y="226.02" font-size="8.25" textLength="12.17" lengthAdjust="spacingAndGlyphs" fill="#000" stroke="#000" stroke-width="0.15">0.6</text>
<line x1="366.80" y1="176.64" x2="369.10" y2="176.64" stroke="#222" stroke-width="0.6"/>
<text x="370.35" y="179.44" font-size="8.25" textLength="12.01" lengthAdjust="spacingAndGlyphs" fill="#000" stroke="#000" stroke-width="0.15">0.7</text>
<line x1="366.80" y1="130.06" x2="369.10" y2="130.06" stroke="#222" stroke-width="0.6"/>
<text x="370.35" y="132.86" font-size="8.25" textLength="12.08" lengthAdjust="spacingAndGlyphs" fill="#000" stroke="#000" stroke-width="0.15">0.8</text>
<line x1="366.80" y1="83.48" x2="369.10" y2="83.48" stroke="#222" stroke-width="0.6"/>
<text x="370.35" y="86.28" font-size="8.25" textLength="12.09" lengthAdjust="spacingAndGlyphs" fill="#000" stroke="#000" stroke-width="0.15">0.9</text>
<line x1="366.80" y1="36.90" x2="369.10" y2="36.90" stroke="#222" stroke-width="0.6"/>
<text x="370.05" y="39.70" font-size="8.25" textLength="12.03" lengthAdjust="spacingAndGlyphs" fill="#000" stroke="#000" stroke-width="0.15">1.0</text>
<g transform="translate(389.20 152.75) rotate(-90)"><text x="-17.49" y="0.00" font-size="8.51" textLength="34.70" lengthAdjust="spacingAndGlyphs" fill="#000" stroke="#000" stroke-width="0.15">F1 Score</text></g>
<rect x="488.600" y="36.900" width="7.764" height="33.271" fill="#fdb365"/>
<rect x="496.364" y="36.900" width="7.764" height="33.271" fill="#279f53"/>
<rect x="504.128" y="36.900" width="7.764" height="33.271" fill="#199750"/>
<rect x="511.892" y="36.900" width="7.764" height="33.271" fill="#98d368"/>
<rect x="519.656" y="36.900" width="7.764" height="33.271" fill="#73c264"/>
<rect x="527.420" y="36.900" width="7.764" height="33.271" fill="#36a657"/>
<rect x="535.184" y="36.900" width="7.764" height="33.271" fill="#45ad5b"/>
<rect x="542.948" y="36.900" width="7.764" height="33.271" fill="#199750"/>
<rect x="550.712" y="36.900" width="7.764" height="33.271" fill="#199750"/>
<rect x="558.477" y="36.900" width="7.764" height="33.271" fill="#148e4b"/>
<rect x="566.241" y="36.900" width="7.764" height="33.271" fill="#199750"/>
<rect x="574.005" y="36.900" width="7.764" height="33.271" fill="#199750"/>
<rect x="581.769" y="36.900" width="7.764" height="33.271" fill="#279f53"/>
<rect x="589.533" y="36.900" width="7.764" height="33.271" fill="#148e4b"/>
<rect x="597.297" y="36.900" width="7.764" height="33.271" fill="#0c7f43"/>
<rect x="605.061" y="36.900" width="7.764" height="33.271" fill="#199750"/>
<rect x="612.825" y="36.900" width="7.764" height="33.271" fill="#279f53"/>
<rect x="620.589" y="36.900" width="7.764" height="33.271" fill="#17934e"/>
<rect x="628.353" y="36.900" width="7.764" height="33.271" fill="#199750"/>
<rect x="636.117" y="36.900" width="7.764" height="33.271" fill="#199750"/>
<rect x="643.881" y="36.900" width="7.764" height="33.271" fill="#148e4b"/>
<rect x="651.645" y="36.900" width="7.764" height="33.271" fill="#279f53"/>
<rect x="659.409" y="36.900" width="7.764" height="33.271" fill="#118848"/>
<rect x="667.173" y="36.900" width="7.764" height="33.271" fill="#199750"/>
<rect x="674.938" y="36.900" width="7.764" height="33.271" fill="#279f53"/>
<rect x="682.702" y="36.900" width="7.764" height="33.271" fill="#0a7b41"/>
<rect x="690.466" y="36.900" width="7.764" height="33.271" fill="#199750"/>
<rect x="698.230" y="36.900" width="7.764" height="33.271" fill="#148e4b"/>
<rect x="488.600" y="70.171" width="7.764" height="33.271" fill="#c21c27"/>
<rect x="496.364" y="70.171" width="7.764" height="33.271" fill="#279f53"/>
<rect x="504.128" y="70.171" width="7.764" height="33.271" fill="#279f53"/>
<rect x="511.892" y="70.171" width="7.764" height="33.271" fill="#a5d86a"/>
<rect x="519.656" y="70.171" width="7.764" height="33.271" fill="#66bd63"/>
<rect x="527.420" y="70.171" width="7.764" height="33.271" fill="#7fc866"/>
<rect x="535.184" y="70.171" width="7.764" height="33.271" fill="#66bd63"/>
<rect x="542.948" y="70.171" width="7.764" height="33.271" fill="#279f53"/>
<rect x="550.712" y="70.171" width="7.764" height="33.271" fill="#36a657"/>
<rect x="558.477" y="70.171" width="7.764" height="33.271" fill="#199750"/>
<rect x="566.241" y="70.171" width="7.764" height="33.271" fill="#0f8446"/>
<rect x="574.005" y="70.171" width="7.764" height="33.271" fill="#148e4b"/>
<rect x="581.769" y="70.171" width="7.764" height="33.271" fill="#148e4b"/>
<rect x="589.533" y="70.171" width="7.764" height="33.271" fill="#199750"/>
<rect x="597.297" y="70.171" width="7.764" height="33.271" fill="#199750"/>
<rect x="605.061" y="70.171" width="7.764" height="33.271" fill="#199750"/>
<rect x="612.825" y="70.171" width="7.764" height="33.271" fill="#199750"/>
<rect x="620.589" y="70.171" width="7.764" height="33.271" fill="#17934e"/>
<rect x="628.353" y="70.171" width="7.764" height="33.271" fill="#199750"/>
<rect x="636.117" y="70.171" width="7.764" height="33.271" fill="#199750"/>
<rect x="643.881" y="70.171" width="7.764" height="33.271" fill="#199750"/>
<rect x="651.645" y="70.171" width="7.764" height="33.271" fill="#0f8446"/>
<rect x="659.409" y="70.171" width="7.764" height="33.271" fill="#148e4b"/>
<rect x="667.173" y="70.171" width="7.764" height="33.271" fill="#17934e"/>
<rect x="674.938" y="70.171" width="7.764" height="33.271" fill="#148e4b"/>
<rect x="682.702" y="70.171" width="7.764" height="33.271" fill="#0c7f43"/>
<rect x="690.466" y="70.171" width="7.764" height="33.271" fill="#199750"/>
<rect x="698.230" y="70.171" width="7.764" height="33.271" fill="#148e4b"/>
<rect x="488.600" y="103.443" width="7.764" height="33.271" fill="#199750"/>
<rect x="496.364" y="103.443" width="7.764" height="33.271" fill="#279f53"/>
<rect x="504.128" y="103.443" width="7.764" height="33.271" fill="#199750"/>
<rect x="511.892" y="103.443" width="7.764" height="33.271" fill="#118848"/>
<rect x="519.656" y="103.443" width="7.764" height="33.271" fill="#148e4b"/>
<rect x="527.420" y="103.443" width="7.764" height="33.271" fill="#148e4b"/>
<rect x="535.184" y="103.443" width="7.764" height="33.271" fill="#17934e"/>
<rect x="542.948" y="103.443" width="7.764" height="33.271" fill="#199750"/>
<rect x="550.712" y="103.443" width="7.764" height="33.271" fill="#279f53"/>
<rect x="558.477" y="103.443" width="7.764" height="33.271" fill="#199750"/>
<rect x="566.241" y="103.443" width="7.764" height="33.271" fill="#0f8446"/>
<rect x="574.005" y="103.443" width="7.764" height="33.271" fill="#148e4b"/>
<rect x="581.769" y="103.443" width="7.764" height="33.271" fill="#0f8446"/>
<rect x="589.533" y="103.443" width="7.764" height="33.271" fill="#0c7f43"/>
<rect x="597.297" y="103.443" width="7.764" height="33.271" fill="#0f8446"/>
<rect x="605.061" y="103.443" width="7.764" height="33.271" fill="#148e4b"/>
<rect x="612.825" y="103.443" width="7.764" height="33.271" fill="#148e4b"/>
<rect x="620.589" y="103.443" width="7.764" height="33.271" fill="#118848"/>
<rect x="628.353" y="103.443" width="7.764" height="33.271" fill="#0f8446"/>
<rect x="636.117" y="103.443" width="7.764" height="33.271" fill="#17934e"/>
<rect x="643.881" y="103.443" width="7.764" height="33.271" fill="#0a7b41"/>
<rect x="651.645" y="103.443" width="7.764" height="33.271" fill="#199750"/>
<rect x="659.409" y="103.443" width="7.764" height="33.271" fill="#148e4b"/>
<rect x="667.173" y="103.443" width="7.764" height="33.271" fill="#118848"/>
<rect x="674.938" y="103.443" width="7.764" height="33.271" fill="#148e4b"/>
<rect x="682.702" y="103.443" width="7.764" height="33.271" fill="#0c7f43"/>
<rect x="690.466" y="103.443" width="7.764" height="33.271" fill="#57b65f"/>
<rect x="698.230" y="103.443" width="7.764" height="33.271" fill="#148e4b"/>
<rect x="488.600" y="136.714" width="7.764" height="33.271" fill="#36a657"/>
<rect x="496.364" y="136.714" width="7.764" height="33.271" fill="#199750"/>
<rect x="504.128" y="136.714" width="7.764" height="33.271" fill="#199750"/>
<rect x="511.892" y="136.714" width="7.764" height="33.271" fill="#0f8446"/>
<rect x="519.656" y="136.714" width="7.764" height="33.271" fill="#0f8446"/>
<rect x="527.420" y="136.714" width="7.764" height="33.271" fill="#0c7f43"/>
<rect x="535.184" y="136.714" width="7.764" height="33.271" fill="#07753e"/>
<rect x="542.948" y="136.714" width="7.764" height="33.271" fill="#0f8446"/>
<rect x="550.712" y="136.714" width="7.764" height="33.271" fill="#07753e"/>
<rect x="558.477" y="136.714" width="7.764" height="33.271" fill="#0a7b41"/>
<rect x="566.241" y="136.714" width="7.764" height="33.271" fill="#0c7f43"/>
<rect x="574.005" y="136.714" width="7.764" height="33.271" fill="#0a7b41"/>
<rect x="581.769" y="136.714" width="7.764" height="33.271" fill="#07753e"/>
<rect x="589.533" y="136.714" width="7.764" height="33.271" fill="#0a7b41"/>
<rect x="597.297" y="136.714" width="7.764" height="33.271" fill="#07753e"/>
<rect x="605.061" y="136.714" width="7.764" height="33.271" fill="#0c7f43"/>
<rect x="612.825" y="136.714" width="7.764" height="33.271" fill="#07753e"/>
<rect x="620.589" y="136.714" width="7.764" height="33.271" fill="#118848"/>
<rect x="628.353" y="136.714" width="7.764" height="33.271" fill="#0f8446"/>
<rect x="636.117" y="136.714" width="7.764" height="33.271" fill="#219c52"/>
<rect x="643.881" y="136.714" width="7.764" height="33.271" fill="#0f8446"/>
<rect x="651.645" y="136.714" width="7.764" height="33.271" fill="#118848"/>
<rect x="659.409" y="136.714" width="7.764" height="33.271" fill="#0f8446"/>
<rect x="667.173" y="136.714" width="7.764" height="33.271" fill="#118848"/>
<rect x="674.938" y="136.714" width="7.764" height="33.271" fill="#279f53"/>
<rect x="682.702" y="136.714" width="7.764" height="33.271" fill="#148e4b"/>
<rect x="690.466" y="136.714" width="7.764" height="33.271" fill="#118848"/>
<rect x="698.230" y="136.714" width="7.764" height="33.271" fill="#0f8446"/>
<rect x="705.994" y="136.714" width="7.764" height="33.271" fill="#0c7f43"/>
<rect x="713.758" y="136.714" width="7.764" height="33.271" fill="#0f8446"/>
<rect x="721.522" y="136.714" width="7.764" height="33.271" fill="#279f53"/>
<rect x="729.286" y="136.714" width="7.764" height="33.271" fill="#0f8446"/>
<rect x="488.600" y="169.986" width="7.764" height="33.271" fill="#279f53"/>
<rect x="496.364" y="169.986" width="7.764" height="33.271" fill="#45ad5b"/>
<rect x="504.128" y="169.986" width="7.764" height="33.271" fill="#45ad5b"/>
<rect x="511.892" y="169.986" width="7.764" height="33.271" fill="#148e4b"/>
<rect x="519.656" y="169.986" width="7.764" height="33.271" fill="#148e4b"/>
<rect x="527.420" y="169.986" width="7.764" height="33.271" fill="#0c7f43"/>
<rect x="535.184" y="169.986" width="7.764" height="33.271" fill="#0c7f43"/>
<rect x="542.948" y="169.986" width="7.764" height="33.271" fill="#07753e"/>
<rect x="550.712" y="169.986" width="7.764" height="33.271" fill="#0c7f43"/>
<rect x="558.477" y="169.986" width="7.764" height="33.271" fill="#0c7f43"/>
<rect x="566.241" y="169.986" width="7.764" height="33.271" fill="#0c7f43"/>
<rect x="574.005" y="169.986" width="7.764" height="33.271" fill="#0a7b41"/>
<rect x="581.769" y="169.986" width="7.764" height="33.271" fill="#05713c"/>
<rect x="589.533" y="169.986" width="7.764" height="33.271" fill="#05713c"/>
<rect x="597.297" y="169.986" width="7.764" height="33.271" fill="#0c7f43"/>
<rect x="605.061" y="169.986" width="7.764" height="33.271" fill="#0f8446"/>
<rect x="612.825" y="169.986" width="7.764" height="33.271" fill="#0c7f43"/>
<rect x="620.589" y="169.986" width="7.764" height="33.271" fill="#0f8446"/>
<rect x="628.353" y="169.986" width="7.764" height="33.271" fill="#0a7b41"/>
<rect x="636.117" y="169.986" width="7.764" height="33.271" fill="#199750"/>
<rect x="643.881" y="169.986" width="7.764" height="33.271" fill="#0f8446"/>
<rect x="651.645" y="169.986" width="7.764" height="33.271" fill="#118848"/>
<rect x="659.409" y="169.986" width="7.764" height="33.271" fill="#148e4b"/>
<rect x="667.173" y="169.986" width="7.764" height="33.271" fill="#118848"/>
<rect x="674.938" y="169.986" width="7.764" height="33.271" fill="#30a356"/>
<rect x="682.702" y="169.986" width="7.764" height="33.271" fill="#199750"/>
<rect x="690.466" y="169.986" width="7.764" height="33.271" fill="#118848"/>
<rect x="698.230" y="169.986" width="7.764" height="33.271" fill="#199750"/>
<rect x="705.994" y="169.986" width="7.764" height="33.271" fill="#199750"/>
<rect x="713.758" y="169.986" width="7.764" height="33.271" fill="#118848"/>
<rect x="721.522" y="169.986" width="7.764" height="33.271" fill="#219c52"/>
<rect x="729.286" y="169.986" width="7.764" height="33.271" fill="#0a7b41"/>
<rect x="488.600" y="203.257" width="7.764" height="33.271" fill="#57b65f"/>
<rect x="496.364" y="203.257" width="7.764" height="33.271" fill="#36a657"/>
<rect x="504.128" y="203.257" width="7.764" height="33.271" fill="#8ccd67"/>
<rect x="511.892" y="203.257" width="7.764" height="33.271" fill="#57b65f"/>
<rect x="519.656" y="203.257" width="7.764" height="33.271" fill="#57b65f"/>
<rect x="527.420" y="203.257" width="7.764" height="33.271" fill="#279f53"/>
<rect x="535.184" y="203.257" width="7.764" height="33.271" fill="#36a657"/>
<rect x="542.948" y="203.257" width="7.764" height="33.271" fill="#279f53"/>
<rect x="550.712" y="203.257" width="7.764" height="33.271" fill="#279f53"/>
<rect x="558.477" y="203.257" width="7.764" height="33.271" fill="#199750"/>
<rect x="566.241" y="203.257" width="7.764" height="33.271" fill="#279f53"/>
<rect x="574.005" y="203.257" width="7.764" height="33.271" fill="#30a356"/>
<rect x="581.769" y="203.257" width="7.764" height="33.271" fill="#36a657"/>
<rect x="589.533" y="203.257" width="7.764" height="33.271" fill="#279f53"/>
<rect x="597.297" y="203.257" width="7.764" height="33.271" fill="#0c7f43"/>
<rect x="605.061" y="203.257" width="7.764" height="33.271" fill="#199750"/>
<rect x="612.825" y="203.257" width="7.764" height="33.271" fill="#148e4b"/>
<rect x="620.589" y="203.257" width="7.764" height="33.271" fill="#199750"/>
<rect x="628.353" y="203.257" width="7.764" height="33.271" fill="#279f53"/>
<rect x="636.117" y="203.257" width="7.764" height="33.271" fill="#199750"/>
<rect x="643.881" y="203.257" width="7.764" height="33.271" fill="#148e4b"/>
<rect x="651.645" y="203.257" width="7.764" height="33.271" fill="#199750"/>
<rect x="659.409" y="203.257" width="7.764" height="33.271" fill="#279f53"/>
<rect x="667.173" y="203.257" width="7.764" height="33.271" fill="#279f53"/>
<rect x="674.938" y="203.257" width="7.764" height="33.271" fill="#199750"/>
<rect x="682.702" y="203.257" width="7.764" height="33.271" fill="#36a657"/>
<rect x="690.466" y="203.257" width="7.764" height="33.271" fill="#219c52"/>
<rect x="698.230" y="203.257" width="7.764" height="33.271" fill="#219c52"/>
<rect x="705.994" y="203.257" width="7.764" height="33.271" fill="#279f53"/>
<rect x="713.758" y="203.257" width="7.764" height="33.271" fill="#279f53"/>
<rect x="721.522" y="203.257" width="7.764" height="33.271" fill="#36a657"/>
<rect x="729.286" y="203.257" width="7.764" height="33.271" fill="#73c264"/>
<rect x="488.600" y="236.529" width="7.764" height="33.271" fill="#45ad5b"/>
<rect x="496.364" y="236.529" width="7.764" height="33.271" fill="#45ad5b"/>
<rect x="504.128" y="236.529" width="7.764" height="33.271" fill="#66bd63"/>
<rect x="511.892" y="236.529" width="7.764" height="33.271" fill="#45ad5b"/>
<rect x="519.656" y="236.529" width="7.764" height="33.271" fill="#36a657"/>
<rect x="527.420" y="236.529" width="7.764" height="33.271" fill="#279f53"/>
<rect x="535.184" y="236.529" width="7.764" height="33.271" fill="#36a657"/>
<rect x="542.948" y="236.529" width="7.764" height="33.271" fill="#45ad5b"/>
<rect x="550.712" y="236.529" width="7.764" height="33.271" fill="#45ad5b"/>
<rect x="558.477" y="236.529" width="7.764" height="33.271" fill="#45ad5b"/>
<rect x="566.241" y="236.529" width="7.764" height="33.271" fill="#118848"/>
<rect x="574.005" y="236.529" width="7.764" height="33.271" fill="#36a657"/>
<rect x="581.769" y="236.529" width="7.764" height="33.271" fill="#279f53"/>
<rect x="589.533" y="236.529" width="7.764" height="33.271" fill="#4eb15d"/>
<rect x="597.297" y="236.529" width="7.764" height="33.271" fill="#45ad5b"/>
<rect x="605.061" y="236.529" width="7.764" height="33.271" fill="#30a356"/>
<rect x="612.825" y="236.529" width="7.764" height="33.271" fill="#199750"/>
<rect x="620.589" y="236.529" width="7.764" height="33.271" fill="#199750"/>
<rect x="628.353" y="236.529" width="7.764" height="33.271" fill="#279f53"/>
<rect x="636.117" y="236.529" width="7.764" height="33.271" fill="#199750"/>
<rect x="643.881" y="236.529" width="7.764" height="33.271" fill="#36a657"/>
<rect x="651.645" y="236.529" width="7.764" height="33.271" fill="#36a657"/>
<rect x="659.409" y="236.529" width="7.764" height="33.271" fill="#279f53"/>
<rect x="667.173" y="236.529" width="7.764" height="33.271" fill="#199750"/>
<rect x="674.938" y="236.529" width="7.764" height="33.271" fill="#36a657"/>
<rect x="682.702" y="236.529" width="7.764" height="33.271" fill="#36a657"/>
<rect x="690.466" y="236.529" width="7.764" height="33.271" fill="#30a356"/>
<rect x="698.230" y="236.529" width="7.764" height="33.271" fill="#279f53"/>
<rect x="705.994" y="236.529" width="7.764" height="33.271" fill="#279f53"/>
<rect x="713.758" y="236.529" width="7.764" height="33.271" fill="#279f53"/>
<rect x="721.522" y="236.529" width="7.764" height="33.271" fill="#36a657"/>
<rect x="729.286" y="236.529" width="7.764" height="33.271" fill="#219c52"/>
<path d="M488.600 36.900h7.764v33.271h-7.764zM496.364 36.900h7.764v33.271h-7.764zM504.128 36.900h7.764v33.271h-7.764zM511.892 36.900h7.764v33.271h-7.764zM519.656 36.900h7.764v33.271h-7.764zM527.420 36.900h7.764v33.271h-7.764zM535.184 36.900h7.764v33.271h-7.764zM542.948 36.900h7.764v33.271h-7.764zM550.712 36.900h7.764v33.271h-7.764zM558.477 36.900h7.764v33.271h-7.764zM566.241 36.900h7.764v33.271h-7.764zM574.005 36.900h7.764v33.271h-7.764zM581.769 36.900h7.764v33.271h-7.764zM589.533 36.900h7.764v33.271h-7.764zM597.297 36.900h7.764v33.271h-7.764zM605.061 36.900h7.764v33.271h-7.764zM612.825 36.900h7.764v33.271h-7.764zM620.589 36.900h7.764v33.271h-7.764zM628.353 36.900h7.764v33.271h-7.764zM636.117 36.900h7.764v33.271h-7.764zM643.881 36.900h7.764v33.271h-7.764zM651.645 36.900h7.764v33.271h-7.764zM659.409 36.900h7.764v33.271h-7.764zM667.173 36.900h7.764v33.271h-7.764zM674.938 36.900h7.764v33.271h-7.764zM682.702 36.900h7.764v33.271h-7.764zM690.466 36.900h7.764v33.271h-7.764zM698.230 36.900h7.764v33.271h-7.764zM488.600 70.171h7.764v33.271h-7.764zM496.364 70.171h7.764v33.271h-7.764zM504.128 70.171h7.764v33.271h-7.764zM511.892 70.171h7.764v33.271h-7.764zM519.656 70.171h7.764v33.271h-7.764zM527.420 70.171h7.764v33.271h-7.764zM535.184 70.171h7.764v33.271h-7.764zM542.948 70.171h7.764v33.271h-7.764zM550.712 70.171h7.764v33.271h-7.764zM558.477 70.171h7.764v33.271h-7.764zM566.241 70.171h7.764v33.271h-7.764zM574.005 70.171h7.764v33.271h-7.764zM581.769 70.171h7.764v33.271h-7.764zM589.533 70.171h7.764v33.271h-7.764zM597.297 70.171h7.764v33.271h-7.764zM605.061 70.171h7.764v33.271h-7.764zM612.825 70.171h7.764v33.271h-7.764zM620.589 70.171h7.764v33.271h-7.764zM628.353 70.171h7.764v33.271h-7.764zM636.117 70.171h7.764v33.271h-7.764zM643.881 70.171h7.764v33.271h-7.764zM651.645 70.171h7.764v33.271h-7.764zM659.409 70.171h7.764v33.271h-7.764zM667.173 70.171h7.764v33.271h-7.764zM674.938 70.171h7.764v33.271h-7.764zM682.702 70.171h7.764v33.271h-7.764zM690.466 70.171h7.764v33.271h-7.764zM698.230 70.171h7.764v33.271h-7.764zM488.600 103.443h7.764v33.271h-7.764zM496.364 103.443h7.764v33.271h-7.764zM504.128 103.443h7.764v33.271h-7.764zM511.892 103.443h7.764v33.271h-7.764zM519.656 103.443h7.764v33.271h-7.764zM527.420 103.443h7.764v33.271h-7.764zM535.184 103.443h7.764v33.271h-7.764zM542.948 103.443h7.764v33.271h-7.764zM550.712 103.443h7.764v33.271h-7.764zM558.477 103.443h7.764v33.271h-7.764zM566.241 103.443h7.764v33.271h-7.764zM574.005 103.443h7.764v33.271h-7.764zM581.769 103.443h7.764v33.271h-7.764zM589.533 103.443h7.764v33.271h-7.764zM597.297 103.443h7.764v33.271h-7.764zM605.061 103.443h7.764v33.271h-7.764zM612.825 103.443h7.764v33.271h-7.764zM620.589 103.443h7.764v33.271h-7.764zM628.353 103.443h7.764v33.271h-7.764zM636.117 103.443h7.764v33.271h-7.764zM643.881 103.443h7.764v33.271h-7.764zM651.645 103.443h7.764v33.271h-7.764zM659.409 103.443h7.764v33.271h-7.764zM667.173 103.443h7.764v33.271h-7.764zM674.938 103.443h7.764v33.271h-7.764zM682.702 103.443h7.764v33.271h-7.764zM690.466 103.443h7.764v33.271h-7.764zM698.230 103.443h7.764v33.271h-7.764zM488.600 136.714h7.764v33.271h-7.764zM496.364 136.714h7.764v33.271h-7.764zM504.128 136.714h7.764v33.271h-7.764zM511.892 136.714h7.764v33.271h-7.764zM519.656 136.714h7.764v33.271h-7.764zM527.420 136.714h7.764v33.271h-7.764zM535.184 136.714h7.764v33.271h-7.764zM542.948 136.714h7.764v33.271h-7.764zM550.712 136.714h7.764v33.271h-7.764zM558.477 136.714h7.764v33.271h-7.764zM566.241 136.714h7.764v33.271h-7.764zM574.005 136.714h7.764v33.271h-7.764zM581.769 136.714h7.764v33.271h-7.764zM589.533 136.714h7.764v33.271h-7.764zM597.297 136.714h7.764v33.271h-7.764zM605.061 136.714h7.764v33.271h-7.764zM612.825 136.714h7.764v33.271h-7.764zM620.589 136.714h7.764v33.271h-7.764zM628.353 136.714h7.764v33.271h-7.764zM636.117 136.714h7.764v33.271h-7.764zM643.881 136.714h7.764v33.271h-7.764zM651.645 136.714h7.764v33.271h-7.764zM659.409 136.714h7.764v33.271h-7.764zM667.173 136.714h7.764v33.271h-7.764zM674.938 136.714h7.764v33.271h-7.764zM682.702 136.714h7.764v33.271h-7.764zM690.466 136.714h7.764v33.271h-7.764zM698.230 136.714h7.764v33.271h-7.764zM705.994 136.714h7.764v33.271h-7.764zM713.758 136.714h7.764v33.271h-7.764zM721.522 136.714h7.764v33.271h-7.764zM729.286 136.714h7.764v33.271h-7.764zM488.600 169.986h7.764v33.271h-7.764zM496.364 169.986h7.764v33.271h-7.764zM504.128 169.986h7.764v33.271h-7.764zM511.892 169.986h7.764v33.271h-7.764zM519.656 169.986h7.764v33.271h-7.764zM527.420 169.986h7.764v33.271h-7.764zM535.184 169.986h7.764v33.271h-7.764zM542.948 169.986h7.764v33.271h-7.764zM550.712 169.986h7.764v33.271h-7.764zM558.477 169.986h7.764v33.271h-7.764zM566.241 169.986h7.764v33.271h-7.764zM574.005 169.986h7.764v33.271h-7.764zM581.769 169.986h7.764v33.271h-7.764zM589.533 169.986h7.764v33.271h-7.764zM597.297 169.986h7.764v33.271h-7.764zM605.061 169.986h7.764v33.271h-7.764zM612.825 169.986h7.764v33.271h-7.764zM620.589 169.986h7.764v33.271h-7.764zM628.353 169.986h7.764v33.271h-7.764zM636.117 169.986h7.764v33.271h-7.764zM643.881 169.986h7.764v33.271h-7.764zM651.645 169.986h7.764v33.271h-7.764zM659.409 169.986h7.764v33.271h-7.764zM667.173 169.986h7.764v33.271h-7.764zM674.938 169.986h7.764v33.271h-7.764zM682.702 169.986h7.764v33.271h-7.764zM690.466 169.986h7.764v33.271h-7.764zM698.230 169.986h7.764v33.271h-7.764zM705.994 169.986h7.764v33.271h-7.764zM713.758 169.986h7.764v33.271h-7.764zM721.522 169.986h7.764v33.271h-7.764zM729.286 169.986h7.764v33.271h-7.764zM488.600 203.257h7.764v33.271h-7.764zM496.364 203.257h7.764v33.271h-7.764zM504.128 203.257h7.764v33.271h-7.764zM511.892 203.257h7.764v33.271h-7.764zM519.656 203.257h7.764v33.271h-7.764zM527.420 203.257h7.764v33.271h-7.764zM535.184 203.257h7.764v33.271h-7.764zM542.948 203.257h7.764v33.271h-7.764zM550.712 203.257h7.764v33.271h-7.764zM558.477 203.257h7.764v33.271h-7.764zM566.241 203.257h7.764v33.271h-7.764zM574.005 203.257h7.764v33.271h-7.764zM581.769 203.257h7.764v33.271h-7.764zM589.533 203.257h7.764v33.271h-7.764zM597.297 203.257h7.764v33.271h-7.764zM605.061 203.257h7.764v33.271h-7.764zM612.825 203.257h7.764v33.271h-7.764zM620.589 203.257h7.764v33.271h-7.764zM628.353 203.257h7.764v33.271h-7.764zM636.117 203.257h7.764v33.271h-7.764zM643.881 203.257h7.764v33.271h-7.764zM651.645 203.257h7.764v33.271h-7.764zM659.409 203.257h7.764v33.271h-7.764zM667.173 203.257h7.764v33.271h-7.764zM674.938 203.257h7.764v33.271h-7.764zM682.702 203.257h7.764v33.271h-7.764zM690.466 203.257h7.764v33.271h-7.764zM698.230 203.257h7.764v33.271h-7.764zM705.994 203.257h7.764v33.271h-7.764zM713.758 203.257h7.764v33.271h-7.764zM721.522 203.257h7.764v33.271h-7.764zM729.286 203.257h7.764v33.271h-7.764zM488.600 236.529h7.764v33.271h-7.764zM496.364 236.529h7.764v33.271h-7.764zM504.128 236.529h7.764v33.271h-7.764zM511.892 236.529h7.764v33.271h-7.764zM519.656 236.529h7.764v33.271h-7.764zM527.420 236.529h7.764v33.271h-7.764zM535.184 236.529h7.764v33.271h-7.764zM542.948 236.529h7.764v33.271h-7.764zM550.712 236.529h7.764v33.271h-7.764zM558.477 236.529h7.764v33.271h-7.764zM566.241 236.529h7.764v33.271h-7.764zM574.005 236.529h7.764v33.271h-7.764zM581.769 236.529h7.764v33.271h-7.764zM589.533 236.529h7.764v33.271h-7.764zM597.297 236.529h7.764v33.271h-7.764zM605.061 236.529h7.764v33.271h-7.764zM612.825 236.529h7.764v33.271h-7.764zM620.589 236.529h7.764v33.271h-7.764zM628.353 236.529h7.764v33.271h-7.764zM636.117 236.529h7.764v33.271h-7.764zM643.881 236.529h7.764v33.271h-7.764zM651.645 236.529h7.764v33.271h-7.764zM659.409 236.529h7.764v33.271h-7.764zM667.173 236.529h7.764v33.271h-7.764zM674.938 236.529h7.764v33.271h-7.764zM682.702 236.529h7.764v33.271h-7.764zM690.466 236.529h7.764v33.271h-7.764zM698.230 236.529h7.764v33.271h-7.764zM705.994 236.529h7.764v33.271h-7.764zM713.758 236.529h7.764v33.271h-7.764zM721.522 236.529h7.764v33.271h-7.764zM729.286 236.529h7.764v33.271h-7.764z" fill="none" stroke="#fff" stroke-width="0.6" stroke-opacity="0.4"/>
<line x1="486.30" y1="53.54" x2="488.60" y2="53.54" stroke="#222" stroke-width="0.6"/>
<text x="441.58" y="55.54" font-size="8.56" textLength="43.08" lengthAdjust="spacingAndGlyphs" fill="#000" stroke="#000" stroke-width="0.15">GPT-J-Base</text>
<line x1="486.30" y1="86.81" x2="488.60" y2="86.81" stroke="#222" stroke-width="0.6"/>
<text x="425.23" y="88.81" font-size="8.56" textLength="59.12" lengthAdjust="spacingAndGlyphs" fill="#000" stroke="#000" stroke-width="0.15">GPT-JT-Instruct</text>
<line x1="486.30" y1="120.08" x2="488.60" y2="120.08" stroke="#222" stroke-width="0.6"/>
<text x="437.91" y="122.08" font-size="8.49" textLength="46.79" lengthAdjust="spacingAndGlyphs" fill="#000" stroke="#000" stroke-width="0.15">Llama-Base</text>
<line x1="486.30" y1="153.35" x2="488.60" y2="153.35" stroke="#222" stroke-width="0.6"/>
<text x="426.05" y="155.35" font-size="8.49" textLength="58.30" lengthAdjust="spacingAndGlyphs" fill="#000" stroke="#000" stroke-width="0.15">Llama-Instruct</text>
<line x1="486.30" y1="186.62" x2="488.60" y2="186.62" stroke="#222" stroke-width="0.6"/>
<text x="412.85" y="188.62" font-size="8.49" textLength="72.07" lengthAdjust="spacingAndGlyphs" fill="#000" stroke="#000" stroke-width="0.15">Llama-Abliterated</text>
<line x1="486.30" y1="219.89" x2="488.60" y2="219.89" stroke="#222" stroke-width="0.6"/>
<text x="435.31" y="221.89" font-size="8.49" textLength="49.40" lengthAdjust="spacingAndGlyphs" fill="#000" stroke="#000" stroke-width="0.15">Mistral-Base</text>
<line x1="486.30" y1="253.16" x2="488.60" y2="253.16" stroke="#222" stroke-width="0.6"/>
<text x="423.41" y="255.16" font-size="8.49" textLength="60.94" lengthAdjust="spacingAndGlyphs" fill="#000" stroke="#000" stroke-width="0.15">Mistral-Instruct</text>
<line x1="492.48" y1="269.80" x2="492.48" y2="272.10" stroke="#222" stroke-width="0.6"/>
<text x="490.89" y="277.70" font-size="5.71" textLength="3.19" lengthAdjust="spacingAndGlyphs" fill="#000" stroke="#000" stroke-width="0.15">0</text>
<line x1="500.25" y1="269.80" x2="500.25" y2="272.10" stroke="#222" stroke-width="0.6"/>
<text x="498.66" y="277.70" font-size="5.71" textLength="3.04" lengthAdjust="spacingAndGlyphs" fill="#000" stroke="#000" stroke-width="0.15">1</text>
<line x1="508.01" y1="269.80" x2="508.01" y2="272.10" stroke="#222" stroke-width="0.6"/>
<text x="506.50" y="277.70" font-size="5.71" textLength="3.04" lengthAdjust="spacingAndGlyphs" fill="#000" stroke="#000" stroke-width="0.15">2</text>
<line x1="515.77" y1="269.80" x2="515.77" y2="272.10" stroke="#222" stroke-width="0.6"/>
<text x="514.26" y="277.70" font-size="5.71" textLength="3.07" lengthAdjust="spacingAndGlyphs" fill="#000" stroke="#000" stroke-width="0.15">3</text>
<line x1="523.54" y1="269.80" x2="523.54" y2="272.10" stroke="#222" stroke-width="0.6"/>
<text x="521.96" y="277.70" font-size="5.71" textLength="3.18" lengthAdjust="spacingAndGlyphs" fill="#000" stroke="#000" stroke-width="0.15">4</text>
<line x1="531.30" y1="269.80" x2="531.30" y2="272.10" stroke="#222" stroke-width="0.6"/>
<text x="529.80" y="277.70" font-size="5.71" textLength="3.00" lengthAdjust="spacingAndGlyphs" fill="#000" stroke="#000" stroke-width="0.15">5</text>
<line x1="539.07" y1="269.80" x2="539.07" y2="272.10" stroke="#222" stroke-width="0.6"/>
<text x="537.41" y="277.70" font-size="5.71" textLength="3.30" lengthAdjust="spacingAndGlyphs" fill="#000" stroke="#000" stroke-width="0.15">6</text>
<line x1="546.83" y1="269.80" x2="546.83" y2="272.10" stroke="#222" stroke-width="0.6"/>
<text x="545.28" y="277.70" font-size="5.71" textLength="3.10" lengthAdjust="spacingAndGlyphs" fill="#000" stroke="#000" stroke-width="0.15">7</text>
<line x1="554.59" y1="269.80" x2="554.59" y2="272.10" stroke="#222" stroke-width="0.6"/>
<text x="552.99" y="277.70" font-size="5.71" textLength="3.20" lengthAdjust="spacingAndGlyphs" fill="#000" stroke="#000" stroke-width="0.15">8</text>
<line x1="562.36" y1="269.80" x2="562.36" y2="272.10" stroke="#222" stroke-width="0.6"/>
<text x="560.75" y="277.70" font-size="5.71" textLength="3.23" lengthAdjust="spacingAndGlyphs" fill="#000" stroke="#000" stroke-width="0.15">9</text>
<line x1="570.12" y1="269.80" x2="570.12" y2="272.10" stroke="#222" stroke-width="0.6"/>
<text x="566.72" y="277.70" font-size="5.71" textLength="6.61" lengthAdjust="spacingAndGlyphs" fill="#000" stroke="#000" stroke-width="0.15">10</text>
<line x1="577.89" y1="269.80" x2="577.89" y2="272.10" stroke="#222" stroke-width="0.6"/>
<text x="574.52" y="277.70" font-size="5.71" textLength="6.59" lengthAdjust="spacingAndGlyphs" fill="#000" stroke="#000" stroke-width="0.15">11</text>
<line x1="585.65" y1="269.80" x2="585.65" y2="272.10" stroke="#222" stroke-width="0.6"/>
<text x="582.35" y="277.70" font-size="5.71" textLength="6.46" lengthAdjust="spacingAndGlyphs" fill="#000" stroke="#000" stroke-width="0.15">12</text>
<line x1="593.41" y1="269.80" x2="593.41" y2="272.10" stroke="#222" stroke-width="0.6"/>
<text x="590.06" y="277.70" font-size="5.71" textLength="6.55" lengthAdjust="spacingAndGlyphs" fill="#000" stroke="#000" stroke-width="0.15">13</text>
<line x1="601.18" y1="269.80" x2="601.18" y2="272.10" stroke="#222" stroke-width="0.6"/>
<text x="597.75" y="277.70" font-size="5.71" textLength="6.60" lengthAdjust="spacingAndGlyphs" fill="#000" stroke="#000" stroke-width="0.15">14</text>
<line x1="608.94" y1="269.80" x2="608.94" y2="272.10" stroke="#222" stroke-width="0.6"/>
<text x="605.60" y="277.70" font-size="5.71" textLength="6.49" lengthAdjust="spacingAndGlyphs" fill="#000" stroke="#000" stroke-width="0.15">15</text>
<line x1="616.71" y1="269.80" x2="616.71" y2="272.10" stroke="#222" stroke-width="0.6"/>
<text x="613.29" y="277.70" font-size="5.71" textLength="6.67" lengthAdjust="spacingAndGlyphs" fill="#000" stroke="#000" stroke-width="0.15">16</text>
<line x1="624.47" y1="269.80" x2="624.47" y2="272.10" stroke="#222" stroke-width="0.6"/>
<text x="621.13" y="277.70" font-size="5.71" textLength="6.56" lengthAdjust="spacingAndGlyphs" fill="#000" stroke="#000" stroke-width="0.15">17</text>
<line x1="632.24" y1="269.80" x2="632.24" y2="272.10" stroke="#222" stroke-width="0.6"/>
<text x="628.83" y="277.70" font-size="5.71" textLength="6.61" lengthAdjust="spacingAndGlyphs" fill="#000" stroke="#000" stroke-width="0.15">18</text>
<line x1="640.00" y1="269.80" x2="640.00" y2="272.10" stroke="#222" stroke-width="0.6"/>
<text x="636.61" y="277.70" font-size="5.71" textLength="6.61" lengthAdjust="spacingAndGlyphs" fill="#000" stroke="#000" stroke-width="0.15">19</text>
<line x1="647.76" y1="269.80" x2="647.76" y2="272.10" stroke="#222" stroke-width="0.6"/>
<text x="644.41" y="277.70" font-size="5.71" textLength="6.65" lengthAdjust="spacingAndGlyphs" fill="#000" stroke="#000" stroke-width="0.15">20</text>
<line x1="655.53" y1="269.80" x2="655.53" y2="272.10" stroke="#222" stroke-width="0.6"/>
<text x="652.25" y="277.70" font-size="5.71" textLength="6.57" lengthAdjust="spacingAndGlyphs" fill="#000" stroke="#000" stroke-width="0.15">21</text>
<line x1="663.29" y1="269.80" x2="663.29" y2="272.10" stroke="#222" stroke-width="0.6"/>
<text x="660.04" y="277.70" font-size="5.71" textLength="6.51" lengthAdjust="spacingAndGlyphs" fill="#000" stroke="#000" stroke-width="0.15">22</text>
<line x1="671.06" y1="269.80" x2="671.06" y2="272.10" stroke="#222" stroke-width="0.6"/>
<text x="667.75" y="277.70" font-size="5.71" textLength="6.60" lengthAdjust="spacingAndGlyphs" fill="#000" stroke="#000" stroke-width="0.15">23</text>
<line x1="678.82" y1="269.80" x2="678.82" y2="272.10" stroke="#222" stroke-width="0.6"/>
<text x="675.44" y="277.70" font-size="5.71" textLength="6.65" lengthAdjust="spacingAndGlyphs" fill="#000" stroke="#000" stroke-width="0.15">24</text>
<line x1="686.58" y1="269.80" x2="686.58" y2="272.10" stroke="#222" stroke-width="0.6"/>
<text x="683.29" y="277.70" font-size="5.71" textLength="6.54" lengthAdjust="spacingAndGlyphs" fill="#000" stroke="#000" stroke-width="0.15">25</text>
<line x1="694.35" y1="269.80" x2="694.35" y2="272.10" stroke="#222" stroke-width="0.6"/>
<text x="690.98" y="277.70" font-size="5.71" textLength="6.72" lengthAdjust="spacingAndGlyphs" fill="#000" stroke="#000" stroke-width="0.15">26</text>
<line x1="702.11" y1="269.80" x2="702.11" y2="272.10" stroke="#222" stroke-width="0.6"/>
<text x="698.82" y="277.70" font-size="5.71" textLength="6.60" lengthAdjust="spacingAndGlyphs" fill="#000" stroke="#000" stroke-width="0.15">27</text>
<line x1="709.88" y1="269.80" x2="709.88" y2="272.10" stroke="#222" stroke-width="0.6"/>
<text x="706.53" y="277.70" font-size="5.71" textLength="6.65" lengthAdjust="spacingAndGlyphs" fill="#000" stroke="#000" stroke-width="0.15">28</text>
<line x1="717.64" y1="269.80" x2="717.64" y2="272.10" stroke="#222" stroke-width="0.6"/>
<text x="714.30" y="277.70" font-size="5.71" textLength="6.66" lengthAdjust="spacingAndGlyphs" fill="#000" stroke="#000" stroke-width="0.15">29</text>
<line x1="725.40" y1="269.80" x2="725.40" y2="272.10" stroke="#222" stroke-width="0.6"/>
<text x="722.12" y="277.70" font-size="5.71" textLength="6.59" lengthAdjust="spacingAndGlyphs" fill="#000" stroke="#000" stroke-width="0.15">30</text>
<line x1="733.17" y1="269.80" x2="733.17" y2="272.10" stroke="#222" stroke-width="0.6"/>
<text x="729.95" y="277.70" font-size="5.71" textLength="6.51" lengthAdjust="spacingAndGlyphs" fill="#000" stroke="#000" stroke-width="0.15">31</text>
<text x="591.45" y="284.90" font-size="6.34" textLength="43.13" lengthAdjust="spacingAndGlyphs" fill="#000" stroke="#000" stroke-width="0.15">Layer Number</text>
<g transform="translate(408.80 153.35) rotate(-90)"><text x="-13.58" y="0.00" font-size="9.54" textLength="27.05" lengthAdjust="spacingAndGlyphs" fill="#000" stroke="#000" stroke-width="0.15">Model</text></g>
<text x="555.27" y="29.00" font-size="10.78" textLength="114.63" lengthAdjust="spacingAndGlyphs" fill="#000" stroke="#000" stroke-width="0.15">MHA Output F1 Scores</text>
<rect x="752.70" y="36.90" width="11.70" height="232.90" fill="url(#cb)"/>
<line x1="764.40" y1="269.80" x2="766.70" y2="269.80" stroke="#222" stroke-width="0.6"/>
<text x="767.96" y="272.60" font-size="8.25" textLength="11.92" lengthAdjust="spacingAndGlyphs" fill="#000" stroke="#000" stroke-width="0.15">0.5</text>
<line x1="764.40" y1="223.22" x2="766.70" y2="223.22" stroke="#222" stroke-width="0.6"/>
<text x="767.95" y="226.02" font-size="8.25" textLength="12.17" lengthAdjust="spacingAndGlyphs" fill="#000" stroke="#000" stroke-width="0.15">0.6</text>
<line x1="764.40" y1="176.64" x2="766.70" y2="176.64" stroke="#222" stroke-width="0.6"/>
<text x="767.95" y="179.44" font-size="8.25" textLength="12.01" lengthAdjust="spacingAndGlyphs" fill="#000" stroke="#000" stroke-width="0.15">0.7</text>
<line x1="764.40" y1="130.06" x2="766.70" y2="130.06" stroke="#222" stroke-width="0.6"/>
<text x="767.95" y="132.86" font-size="8.25" textLength="12.08" lengthAdjust="spacingAndGlyphs" fill="#000" stroke="#000" stroke-width="0.15">0.8</text>
<line x1="764.40" y1="83.48" x2="766.70" y2="83.48" stroke="#222" stroke-width="0.6"/>
<text x="767.95" y="86.28" font-size="8.25" textLength="12.09" lengthAdjust="spacingAndGlyphs" fill="#000" stroke="#000" stroke-width="0.15">0.9</text>
<line x1="764.40" y1="36.90" x2="766.70" y2="36.90" stroke="#222" stroke-width="0.6"/>
<text x="767.65" y="39.70" font-size="8.25" textLength="12.03" lengthAdjust="spacingAndGlyphs" fill="#000" stroke="#000" stroke-width="0.15">1.0</text>
<g transform="translate(786.80 152.75) rotate(-90)"><text x="-17.49" y="0.00" font-size="8.51" textLength="34.70" lengthAdjust="spacingAndGlyphs" fill="#000" stroke="#000" stroke-width="0.15">F1 Score</text></g>
<text x="267.37" y="12.90" font-size="12.84" textLength="268.40" lengthAdjust="spacingAndGlyphs" font-weight="bold" fill="#000" stroke="#000" stroke-width="0.3">F1 Score Analysis: Transformer Models</text>
</svg></body></html>
